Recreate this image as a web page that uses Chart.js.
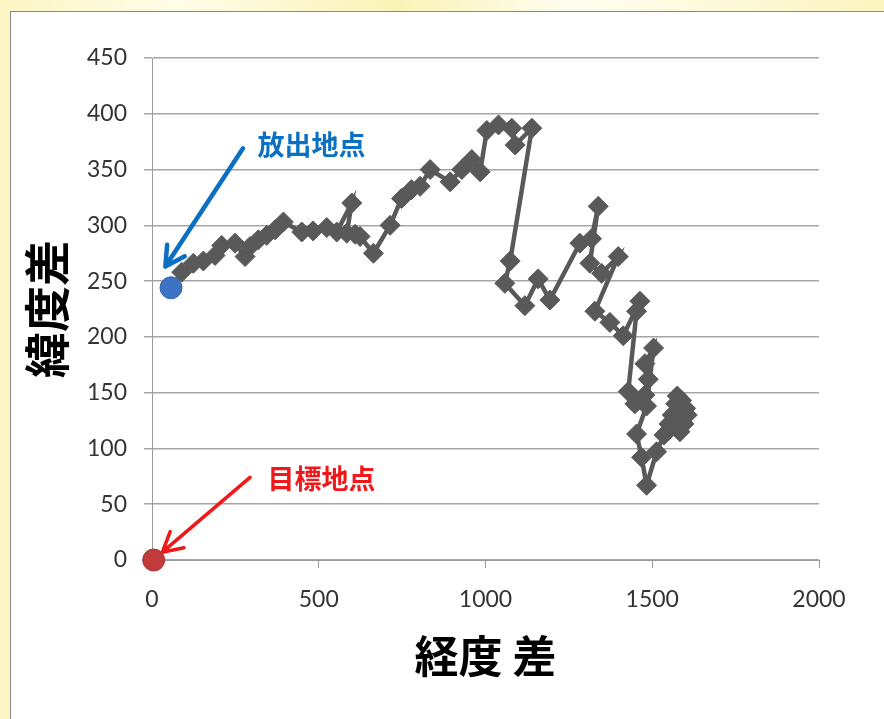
<!DOCTYPE html>
<html>
<head>
<meta charset="utf-8">
<script src="https://cdn.jsdelivr.net/npm/chart.js@4"></script>
<style>
  html, body { margin: 0; padding: 0; }
  body {
    width: 884px; height: 719px; overflow: hidden; position: relative;
    background: linear-gradient(90deg, #fbf6c4 0%, #fffde8 20%, #faf3b8 45%, #fffef0 65%, #fbf5c0 100%);
  }
  #frame {
    position: absolute; left: 10px; top: 11px; width: 900px; height: 720px;
    background: #fff; border-left: 1px solid #8a8a8a; border-top: 1px solid #8a8a8a;
  }
  #c { position: absolute; left: 0; top: 0; }
</style>
</head>
<body>
<div id="frame"></div>
<canvas id="c" width="884" height="719"></canvas>
<script>
// track of the balloon: longitude difference (x) and latitude difference (y)
const lonDiff = [60, 89, 124, 154, 189, 209, 249, 279, 294, 319, 344, 369, 394, 449, 483, 524, 554, 599, 584, 609, 624, 664,
  714, 748, 778, 804, 834, 894, 929, 959, 984, 1004, 1039, 1079, 1089, 1139, 1074, 1058, 1118, 1158, 1193,
  1283, 1318, 1338, 1313, 1348, 1398, 1328, 1373, 1413, 1463, 1453, 1428, 1448, 1478, 1488, 1478, 1504,
  1483, 1453, 1468, 1483, 1513, 1535, 1550, 1560, 1570, 1575, 1588, 1600, 1605, 1595, 1583, 1570, 1580, 1592];
const latDiff = [245, 258, 266, 268, 273, 282, 284, 272, 281, 287, 291, 296, 303, 294, 295, 298, 294, 320, 293, 292, 290, 275,
  300, 324, 332, 335, 350, 339, 350, 359, 348, 385, 390, 387, 372, 387, 268, 248, 228, 252, 233,
  284, 288, 317, 266, 257, 272, 223, 213, 201, 232, 223, 151, 140, 148, 162, 176, 190,
  138, 113, 92, 67, 97, 112, 122, 130, 140, 147, 143, 136, 130, 122, 115, 120, 128, 133];

const launchPoint = [{ x: 57, y: 244 }];
const targetPoint = [{ x: 5, y: 0 }];

const xTicks = [0, 500, 1000, 1500, 2000];
const yTicks = [0, 50, 100, 150, 200, 250, 300, 350, 400, 450];

// callouts: label text, label anchor, arrow tail and arrow tip (data units)
const notes = [
  { text: '放出地点', color: '#0b6fc2', at: [316, 372], from: [273, 369], to: [40, 263], width: 4.5 },
  { text: '目標地点', color: '#f01818', at: [346, 73], from: [294, 74], to: [31, 7], width: 3.5 }
];

const track = lonDiff.map((x, i) => ({ x: x, y: latDiff[i] }));

const calloutPlugin = {
  id: 'callouts',
  afterDatasetsDraw(chart) {
    const ctx = chart.ctx, xs = chart.scales.x, ys = chart.scales.y;
    ctx.save();
    notes.forEach(n => {
      const x1 = xs.getPixelForValue(n.from[0]), y1 = ys.getPixelForValue(n.from[1]);
      const x2 = xs.getPixelForValue(n.to[0]), y2 = ys.getPixelForValue(n.to[1]);
      ctx.strokeStyle = n.color;
      ctx.lineWidth = n.width;
      ctx.lineCap = 'round';
      ctx.lineJoin = 'round';
      ctx.beginPath();
      ctx.moveTo(x1, y1);
      ctx.lineTo(x2, y2);
      const a = Math.atan2(y2 - y1, x2 - x1);
      const len = 22, spread = 0.5;
      ctx.moveTo(x2 - len * Math.cos(a - spread), y2 - len * Math.sin(a - spread));
      ctx.lineTo(x2, y2);
      ctx.lineTo(x2 - len * Math.cos(a + spread), y2 - len * Math.sin(a + spread));
      ctx.stroke();

      ctx.fillStyle = n.color;
      ctx.font = 'bold 27px "Noto Sans CJK JP"';
      ctx.textBaseline = 'middle';
      ctx.textAlign = 'left';
      ctx.fillText(n.text, xs.getPixelForValue(n.at[0]), ys.getPixelForValue(n.at[1]));
    });
    ctx.restore();
  }
};

Chart.defaults.font.family = 'Lato, sans-serif';
Chart.defaults.color = '#333';

new Chart(document.getElementById('c'), {
  type: 'scatter',
  data: {
    datasets: [
      {
        label: 'track',
        data: track,
        order: 2,
        showLine: true,
        borderColor: '#595959',
        borderWidth: 4.5,
        backgroundColor: '#595959',
        pointStyle: 'rectRot',
        pointRadius: 10,
        pointBorderWidth: 1,
        pointBorderColor: '#595959',
        clip: false
      },
      {
        label: '放出地点',
        data: launchPoint,
        order: 1,
        backgroundColor: '#3d73c4',
        borderColor: '#3568b5',
        borderWidth: 1,
        pointRadius: 11,
        clip: false
      },
      {
        label: '目標地点',
        data: targetPoint,
        order: 1,
        backgroundColor: '#c23b3b',
        borderColor: '#a83030',
        borderWidth: 1,
        pointRadius: 11,
        clip: false
      }
    ]
  },
  options: {
    responsive: false,
    animation: false,
    layout: { padding: { top: 58, right: 65, left: 0, bottom: 0 } },
    plugins: { legend: { display: false }, tooltip: { enabled: false } },
    scales: {
      x: {
        type: 'linear',
        min: 0, max: 2000,
        afterBuildTicks: s => { s.ticks = xTicks.map(v => ({ value: v })); },
        afterFit: s => { s.height = 159; },
        grid: { drawOnChartArea: false, drawTicks: true, tickLength: 8, color: '#9a9a9a', lineWidth: 1 },
        border: { color: '#9a9a9a', width: 1 },
        ticks: { font: { size: 23 }, color: '#333', padding: 18, maxRotation: 0, callback: v => String(v) },
        title: {
          display: true, text: '経度 差', color: '#000',
          font: { family: '"Noto Sans CJK JP"', size: 44, weight: 'bold' },
          padding: { top: 0, bottom: 36 }
        }
      },
      y: {
        type: 'linear',
        min: 0, max: 450,
        afterBuildTicks: s => { s.ticks = yTicks.map(v => ({ value: v })); },
        afterFit: s => { s.width = 152; },
        grid: { color: '#a5a5a5', lineWidth: 1.5, tickLength: 8 },
        border: { color: '#9a9a9a', width: 1 },
        ticks: { font: { size: 23 }, color: '#333', padding: 17, callback: v => String(v) },
        title: {
          display: true, text: '緯度差', color: '#000',
          font: { family: '"Noto Sans CJK JP"', size: 46, weight: 'bold' },
          padding: { top: 19, bottom: 0 }
        }
      }
    }
  },
  plugins: [calloutPlugin]
});
</script>
</body>
</html>
